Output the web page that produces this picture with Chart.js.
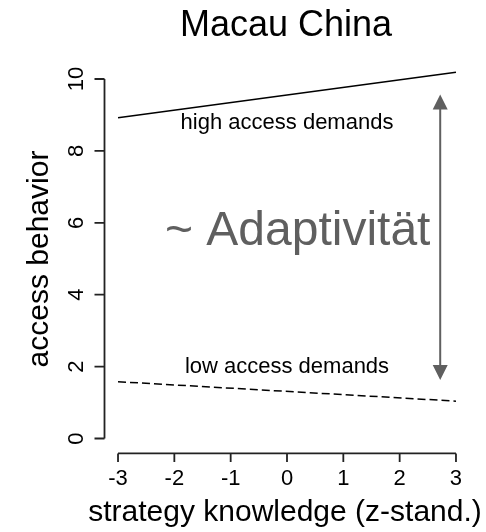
<!DOCTYPE html>
<html>
<head>
<meta charset="utf-8">
<script src="https://cdn.jsdelivr.net/npm/chart.js@4/dist/chart.umd.min.js"></script>
<style>
html,body{margin:0;padding:0;background:#fff;}
#wrap{width:486px;height:532px;position:relative;}
</style>
</head>
<body>
<div id="wrap"><canvas id="c"></canvas></div>
<script>
// ---- data ----
const strategyKnowledge = [-3, 3];
const highAccessDemands = [8.92, 10.19];
const lowAccessDemands = [1.58, 1.04];
const xTicks = [-3, -2, -1, 0, 1, 2, 3];
const yTicks = [0, 2, 4, 6, 8, 10];
const titleText = "Macau China";
const xTitle = "strategy knowledge (z-stand.)";
const yTitle = "access behavior";
const labelHigh = {text: "high access demands", x: 0, y: 8.78};
const labelLow = {text: "low access demands", x: 0, y: 1.99};
const labelAdapt = {text: "~ Adaptivität", x: 0.19, y: 5.76};
const arrowX = 2.72;
const arrowTop = 9.57;
const arrowBottom = 1.63;

const FONT = "'Liberation Sans', Arial, Helvetica, sans-serif";

const rPlot = {
  id: 'rPlot',
  afterDraw(chart) {
    const ctx = chart.ctx;
    const xs = chart.scales.x, ys = chart.scales.y;
    const area = chart.chartArea;
    ctx.save();
    // axes
    ctx.strokeStyle = '#222';
    ctx.fillStyle = '#000';
    ctx.lineWidth = 1.8;
    const yAxisX = area.left;
    const xAxisY = area.bottom + 0.5;
    ctx.beginPath();
    ctx.moveTo(xs.getPixelForValue(xTicks[0]), xAxisY);
    ctx.lineTo(xs.getPixelForValue(xTicks[xTicks.length-1]), xAxisY);
    xTicks.forEach(t => {
      const px = xs.getPixelForValue(t);
      ctx.moveTo(px, xAxisY);
      ctx.lineTo(px, xAxisY + 8.5);
    });
    ctx.moveTo(yAxisX, ys.getPixelForValue(yTicks[0]));
    ctx.lineTo(yAxisX, ys.getPixelForValue(yTicks[yTicks.length-1]));
    yTicks.forEach(t => {
      const py = ys.getPixelForValue(t);
      ctx.moveTo(yAxisX, py);
      ctx.lineTo(yAxisX - 10, py);
    });
    ctx.stroke();

    // tick labels
    ctx.font = '22px ' + FONT;
    ctx.textAlign = 'center';
    ctx.textBaseline = 'alphabetic';
    xTicks.forEach(t => {
      ctx.fillText(String(t), xs.getPixelForValue(t), 485);
    });
    yTicks.forEach(t => {
      ctx.save();
      ctx.translate(83, ys.getPixelForValue(t));
      ctx.rotate(-Math.PI / 2);
      ctx.fillText(String(t), 0, 0);
      ctx.restore();
    });

    // titles
    const cx = (xs.getPixelForValue(-3) + xs.getPixelForValue(3)) / 2;
    ctx.font = '36px ' + FONT;
    ctx.fillText(titleText, cx - 1, 36);
    ctx.font = '30px ' + FONT;
    ctx.fillText(xTitle, cx - 2, 521);
    ctx.save();
    ctx.translate(48, 259);
    ctx.rotate(-Math.PI / 2);
    ctx.fillText(yTitle, 0, 0);
    ctx.restore();

    // line labels
    ctx.textBaseline = 'middle';
    ctx.font = '22px ' + FONT;
    ctx.fillStyle = '#000';
    ctx.fillText(labelHigh.text, xs.getPixelForValue(labelHigh.x), ys.getPixelForValue(labelHigh.y));
    ctx.fillText(labelLow.text, xs.getPixelForValue(labelLow.x), ys.getPixelForValue(labelLow.y));

    // adaptivity annotation
    ctx.fillStyle = '#5f5f5f';
    ctx.font = '48px ' + FONT;
    ctx.fillText(labelAdapt.text, xs.getPixelForValue(labelAdapt.x), ys.getPixelForValue(labelAdapt.y));

    // double arrow
    const ax = xs.getPixelForValue(arrowX);
    const at = ys.getPixelForValue(arrowTop);
    const ab = ys.getPixelForValue(arrowBottom);
    const hl = 15, hw = 7.5;
    ctx.strokeStyle = '#5f5f5f';
    ctx.lineWidth = 2;
    ctx.beginPath();
    ctx.moveTo(ax, at + hl - 1);
    ctx.lineTo(ax, ab - hl + 1);
    ctx.stroke();
    ctx.beginPath();
    ctx.moveTo(ax, at);
    ctx.lineTo(ax - hw, at + hl);
    ctx.lineTo(ax + hw, at + hl);
    ctx.closePath();
    ctx.moveTo(ax, ab);
    ctx.lineTo(ax - hw, ab - hl);
    ctx.lineTo(ax + hw, ab - hl);
    ctx.closePath();
    ctx.fill();
    ctx.restore();
  }
};

const toPoints = (xsArr, ysArr) => xsArr.map((x, i) => ({x: x, y: ysArr[i]}));

new Chart(document.getElementById('c'), {
  type: 'line',
  data: {
    datasets: [
      {
        label: 'high access demands',
        data: toPoints(strategyKnowledge, highAccessDemands),
        borderColor: '#000',
        borderWidth: 1.5,
        pointRadius: 0,
        fill: false,
        tension: 0
      },
      {
        label: 'low access demands',
        data: toPoints(strategyKnowledge, lowAccessDemands),
        borderColor: '#000',
        borderWidth: 1.5,
        borderDash: [8, 4],
        pointRadius: 0,
        fill: false,
        tension: 0
      }
    ]
  },
  options: {
    responsive: true,
    maintainAspectRatio: false,
    animation: false,
    devicePixelRatio: 1,
    layout: { padding: { left: 104.5, right: 16.5, top: 64.6, bottom: 79.1 } },
    plugins: { legend: { display: false }, tooltip: { enabled: false }, title: { display: false } },
    scales: {
      x: { type: 'linear', min: -3.24, max: 3.24, display: false },
      y: { type: 'linear', min: -0.4, max: 10.4, display: false }
    }
  },
  plugins: [rPlot]
});
</script>
</body>
</html>
